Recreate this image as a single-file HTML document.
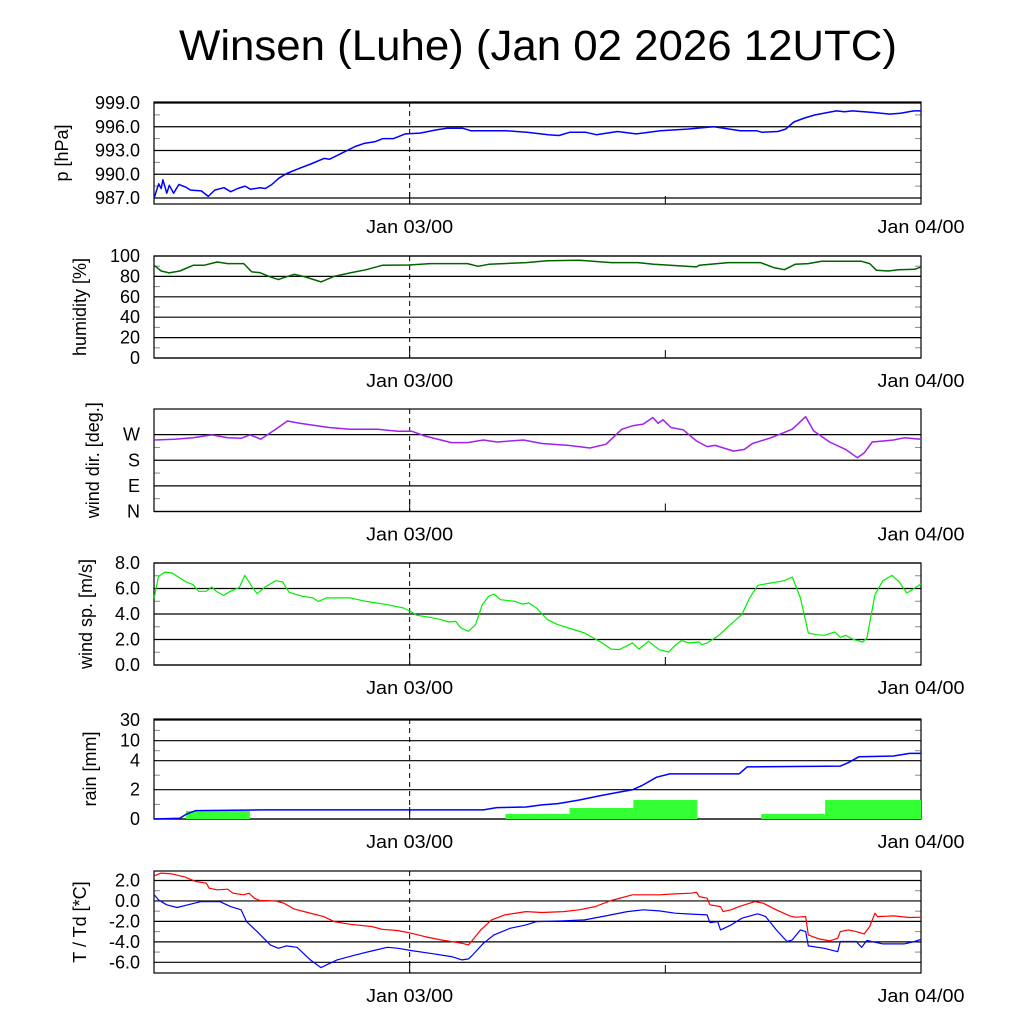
<!DOCTYPE html>
<html><head><meta charset="utf-8"><style>
html,body{margin:0;padding:0;background:#fff;}
svg{display:block;font-family:"Liberation Sans",sans-serif;}
</style></head><body>
<svg id="chart" width="1024" height="1024" viewBox="0 0 1024 1024">
<text x="538" y="60" font-size="43" text-anchor="middle" textLength="718" lengthAdjust="spacingAndGlyphs">Winsen (Luhe) (Jan 02 2026 12UTC)</text>
</svg>
<script>
// ---- data (time in hours since Jan 02 00UTC) ----
const presT=[12.02,12.22,12.34,12.42,12.6,12.72,12.92,13.17,13.47,13.72,14.22,14.55,14.85,15.28,15.6,15.93,16.28,16.53,16.98,17.23,17.53,17.86,18.23,18.78,19.36,19.98,20.24,20.99,21.44,21.86,22.36,22.74,23.24,23.79,24.49,25.25,25.75,26.5,26.87,28.5,29.5,30.5,31.01,31.51,32.26,32.76,33.76,34.64,35.77,37.02,38.27,39.02,39.52,40.28,40.53,41.28,41.65,42.03,42.53,43.03,44.03,44.41,44.78,45.78,46.54,47.04,47.66,48];
const presV=[987.1,988.8,988.2,989.3,987.6,988.6,987.6,988.7,988.4,988.0,987.9,987.2,988.0,988.3,987.8,988.2,988.5,988.1,988.3,988.2,988.7,989.5,990.1,990.7,991.3,992.0,991.9,992.9,993.5,993.9,994.1,994.5,994.5,995.1,995.2,995.6,995.8,995.8,995.5,995.5,995.3,995.0,994.9,995.3,995.3,995.0,995.4,995.1,995.5,995.7,996.0,995.7,995.5,995.5,995.3,995.4,995.7,996.6,997.1,997.5,998.0,997.9,998.0,997.8,997.6,997.7,998.0,998.0];
const presTicks=[987.0,990.0,993.0,996.0,999.0];

const humT=[12.01,12.34,12.71,13.21,13.84,14.34,14.96,15.46,16.21,16.59,16.96,17.46,17.84,18.09,18.59,19.09,19.84,20.46,21.21,21.96,22.71,23.96,24.96,26.71,27.21,27.71,29.46,30.46,31.96,33.46,34.71,35.46,36.21,37.46,37.59,38.96,40.46,41.09,41.59,42.09,42.71,43.34,44.21,45.21,45.59,45.91,46.46,46.96,47.71,48];
const humV=[90.9,85.3,83.4,85.3,90.9,90.9,94.1,92.5,92.5,84.4,83.7,79.5,76.9,78.8,82.1,79.5,74.6,80.1,83.4,86.6,90.9,91.2,92.5,92.5,89.9,91.9,93.5,95.4,95.8,93.5,93.5,91.9,90.9,89.3,90.9,93.5,93.5,88.6,86.6,91.9,92.5,94.8,94.8,94.8,92.5,86.0,85.3,86.6,87.0,89.3];
const humTicks=[0,20,40,60,80,100];

const dirT=[12.01,12.96,13.84,14.71,15.46,16.09,16.51,17.01,17.71,18.26,18.84,20.21,21.21,22.46,23.46,24.09,24.71,25.96,26.71,27.46,28.09,29.34,30.21,31.46,32.46,33.21,33.96,34.46,34.96,35.41,35.66,35.89,36.26,36.84,37.46,37.96,38.34,39.21,39.71,40.09,40.96,41.96,42.59,42.96,43.71,44.46,45.01,45.34,45.71,46.71,47.21,48];
const dirV=[251,254,259,269,259,257,269,254,289,318,310,295,289,289,282,282,265,242,242,251,244,251,239,232,223,236,289,301,307,330,310,322,295,287,248,228,232,212,218,239,259,289,333,283,244,218,189,206,244,251,259,254];
const dirTicks=[0,90,180,270];
const dirLabels=["N","E","S","W"];

const spdT=[12.01,12.21,12.51,12.84,13.46,13.84,14.09,14.46,14.71,14.96,15.26,15.59,16.01,16.26,16.59,16.84,17.21,17.71,18.04,18.34,18.96,19.46,19.71,20.09,21.21,21.96,22.96,23.71,24.09,24.34,24.96,25.46,25.84,26.16,26.41,26.76,27.09,27.41,27.71,27.96,28.26,28.96,29.29,29.59,29.96,30.46,30.96,31.46,32.21,32.96,33.46,33.84,34.46,34.76,35.21,35.71,36.16,36.46,36.76,37.09,37.59,37.71,37.96,38.46,38.96,39.59,39.96,40.34,40.96,41.59,41.96,42.34,42.71,43.09,43.46,43.96,44.21,44.46,44.84,45.26,45.46,45.84,46.21,46.64,46.96,47.34,47.71,48];
const spdV=[5.26,6.95,7.29,7.22,6.56,6.3,5.78,5.78,6.12,5.73,5.46,5.78,6.09,7.03,6.17,5.59,6.12,6.61,6.51,5.7,5.39,5.26,4.99,5.26,5.26,4.99,4.73,4.47,4.16,3.9,3.74,3.56,3.37,3.42,2.9,2.64,3.16,4.73,5.39,5.57,5.12,4.99,4.78,4.86,4.47,3.56,3.16,2.9,2.51,1.8,1.25,1.2,1.73,1.25,1.86,1.2,1.02,1.54,1.91,1.73,1.8,1.59,1.73,2.25,3.03,3.95,5.26,6.25,6.43,6.61,6.9,5.26,2.51,2.38,2.33,2.59,2.17,2.33,1.99,1.8,2.12,5.52,6.61,7.03,6.56,5.65,6.04,6.35];
const spdTicks=[0,2,4,6,8];

const rainBinStart=[13.5,28.5,31.5,34.5,40.5,43.5];
const rainBinEnd=[16.5,31.5,34.5,37.5,43.5,48];
const rainBinAmount=[0.55,0.34,0.75,1.3,0.34,1.3];
const rainCumT=[12.01,13.21,13.51,13.96,16.96,27.46,28.09,29.46,30.21,30.96,31.96,32.96,33.71,34.46,34.96,35.59,36.21,39.46,39.84,44.21,44.59,45.09,46.71,47.46,48];
const rainCumV=[0,0.05,0.32,0.57,0.62,0.62,0.78,0.82,0.96,1.05,1.3,1.6,1.8,1.99,2.33,2.86,3.09,3.09,3.57,3.63,3.86,5.2,5.4,6.2,6.2];
const rainTicks=[0,2,4,10,30];

const tempT=[12.01,12.34,12.84,13.46,13.96,14.46,14.59,14.96,15.46,15.71,16.21,16.46,16.71,16.96,17.71,18.09,18.59,19.21,19.96,20.46,21.21,22.21,22.71,23.46,24.09,24.71,25.46,26.46,26.76,26.96,27.34,27.84,28.46,29.46,30.21,31.21,31.96,32.71,33.46,34.46,35.71,36.46,37.21,37.46,37.59,37.96,38.09,38.59,38.71,39.09,39.46,40.21,40.59,41.21,41.84,42.09,42.59,42.71,43.21,43.71,44.09,44.21,44.59,44.96,45.34,45.59,45.84,45.96,46.71,47.46,48];
const tempV=[2.46,2.72,2.65,2.33,1.9,1.74,1.25,1.09,1.15,0.76,0.6,0.76,0.27,0.04,0.0,-0.22,-0.8,-1.13,-1.53,-2.02,-2.28,-2.5,-2.77,-2.9,-3.16,-3.49,-3.81,-4.14,-4.3,-3.81,-2.83,-1.85,-1.36,-1.04,-1.13,-1.04,-0.87,-0.55,0.04,0.6,0.6,0.69,0.76,0.86,0.43,0.27,-0.38,-0.55,-1.04,-0.87,-0.55,-0.06,-0.22,-0.87,-1.46,-1.59,-1.53,-3.32,-3.71,-3.91,-3.65,-3.0,-2.83,-3.0,-3.22,-2.5,-1.2,-1.53,-1.46,-1.62,-1.59];
const dewT=[12.01,12.21,12.59,13.09,13.59,14.21,15.09,15.59,16.09,16.34,16.84,17.46,17.84,18.21,18.71,19.34,19.84,20.59,21.46,22.21,22.96,23.46,24.09,24.96,25.96,26.46,26.76,26.96,27.46,27.96,28.71,29.46,29.96,31.21,32.21,33.21,34.21,34.96,35.71,36.46,37.21,37.96,38.09,38.46,38.59,39.09,39.59,40.34,40.71,41.21,41.71,41.96,42.34,42.59,42.71,43.46,44.09,44.21,44.96,45.21,45.46,46.21,47.21,47.71,48];
const dewV=[0.6,0.1,-0.38,-0.64,-0.38,-0.06,-0.06,-0.55,-0.87,-2.02,-3.0,-4.3,-4.63,-4.4,-4.53,-5.77,-6.52,-5.77,-5.28,-4.89,-4.53,-4.63,-4.86,-5.12,-5.44,-5.77,-5.67,-5.28,-4.14,-3.32,-2.67,-2.34,-2.02,-1.95,-1.85,-1.46,-1.04,-0.87,-0.97,-1.2,-1.29,-1.36,-2.12,-2.02,-2.83,-2.34,-1.69,-1.26,-1.53,-2.83,-3.97,-3.81,-2.83,-3.0,-4.4,-4.63,-4.96,-3.97,-3.97,-4.53,-3.87,-4.2,-4.2,-3.97,-3.75];
const tempTicks=[-6,-4,-2,0,2];

// ---- layout ----
const NS="http://www.w3.org/2000/svg";
const svg=document.getElementById('chart');
const X0=154,X1=921,T0=12,T1=48;
function xs(t){return X0+(t-T0)*(X1-X0)/(T1-T0);}
function mk(tag,attrs,parent){const e=document.createElementNS(NS,tag);for(const k in attrs)e.setAttribute(k,attrs[k]);(parent||svg).appendChild(e);return e;}

function panel(name,top,bot,ylab,labX,ticks,yf,fmt,labels){
  const g=mk('g',{});
  
  
  ticks.forEach((v,i)=>{
    const y=yf(v);
    const ln=mk('line',{x1:X0,x2:X1,y1:y,y2:y,stroke:'#000','stroke-width':1.2},g);
    
    
    const tx=mk('text',{x:140,y:y+6,'font-size':18,'text-anchor':'end'},g);
    tx.textContent=labels?labels[i]:fmt(v);
    
    
  });
  for(let k=0;k<ticks.length-1;k++){
    const ym=(yf(ticks[k])+yf(ticks[k+1]))/2;
    mk('line',{x1:X0,x2:X0+6,y1:ym,y2:ym,stroke:'#888','stroke-width':1},g);
    mk('line',{x1:X1-6,x2:X1,y1:ym,y2:ym,stroke:'#888','stroke-width':1},g);
  }
  const fr=mk('rect',{x:X0,y:top,width:X1-X0,height:bot-top,fill:'none',stroke:'#000','stroke-width':1.2},g);
  
  
  const dl=mk('line',{x1:xs(24),x2:xs(24),y1:top,y2:bot,stroke:'#000','stroke-width':1,'stroke-dasharray':'5,4'},g);
  
  
  mk('line',{x1:xs(24),x2:xs(24),y1:bot-12,y2:bot,stroke:'#000','stroke-width':1},g);
  mk('line',{x1:xs(36),x2:xs(36),y1:bot-8,y2:bot,stroke:'#000','stroke-width':1},g);
  [['Jan 03/00',24],['Jan 04/00',48]].forEach(([s,t])=>{
    const tx=mk('text',{x:xs(t),y:bot+29,'font-size':18,'text-anchor':'middle',textLength:87,lengthAdjust:'spacingAndGlyphs'},g);
    tx.textContent=s;
    
    
  });
  const cy=(top+bot)/2;
  const yl=mk('text',{x:labX,y:cy,'font-size':18,'text-anchor':'middle',transform:`rotate(-90 ${labX} ${cy})`},g);
  yl.textContent=ylab;
  
  
  return g;
}
function line(g,name,T,V,yf,color,w){
  const d=T.map((t,i)=>(i?'L':'M')+xs(t).toFixed(1)+','+yf(V[i]).toFixed(1)).join('');
  const p=mk('path',{d:d,fill:'none',stroke:color,'stroke-width':w||1.5,'stroke-linejoin':'round'},g);
  
  
}

// pressure
{const top=102,bot=204,yf=v=>198-(v-987)*(198-103)/12;
 const g=panel('pressure',top,bot,'p [hPa]',68,presTicks,yf,v=>v.toFixed(1));
 line(g,'pressure-line',presT,presV,yf,'#0000ff');}
// humidity
{const top=256,bot=358,yf=v=>bot-v*(bot-top)/100;
 const g=panel('humidity',top,bot,'humidity [%]',86,humTicks,yf,v=>String(v));
 line(g,'humidity-line',humT,humV,yf,'#006400');}
// wind dir
{const top=409,bot=511.5,yf=v=>bot-v*(bot-top)/360;
 const g=panel('wind-direction',top,bot,'wind dir. [deg.]',99,dirTicks,yf,null,dirLabels);
 line(g,'wind-direction-line',dirT,dirV,yf,'#a020f0');}
// wind speed
{const top=563,bot=665,yf=v=>bot-v*(bot-top)/8;
 const g=panel('wind-speed',top,bot,'wind sp. [m/s]',92,spdTicks,yf,v=>v.toFixed(1));
 line(g,'wind-speed-line',spdT,spdV,yf,'#00ee00',1.2);}
// rain (piecewise scale)
{const top=719,bot=819;
 const tv=[0,2,4,10,30],ty=[819,789.7,760.7,740.7,720];
 const yf=v=>{for(let i=1;i<tv.length;i++){if(v<=tv[i]){return ty[i-1]+(v-tv[i-1])/(tv[i]-tv[i-1])*(ty[i]-ty[i-1]);}}return ty[ty.length-1];};
 const g=panel('rain',top,bot,'rain [mm]',96,rainTicks,yf,v=>String(v));
 rainBinStart.forEach((t,i)=>{
   const x0=xs(t),x1=Math.min(xs(rainBinEnd[i]),X1),y=yf(rainBinAmount[i]);
   const r=mk('rect',{x:x0,y:y,width:x1-x0,height:bot-y,fill:'#33ff33'},g);
   
   
 });
 line(g,'rain-cumulative-line',rainCumT,rainCumV,yf,'#0000ff');}
// temperature
{const top=871,bot=973,yf=v=>880.5+(2-v)*(962.3-880.5)/8;
 const g=panel('temperature',top,bot,'T / Td [*C]',86,tempTicks,yf,v=>v.toFixed(1));
 line(g,'temperature-line',tempT,tempV,yf,'#ff0000',1.2);
 line(g,'dewpoint-line',dewT,dewV,yf,'#0000ff',1.2);}
</script>
</body></html>
